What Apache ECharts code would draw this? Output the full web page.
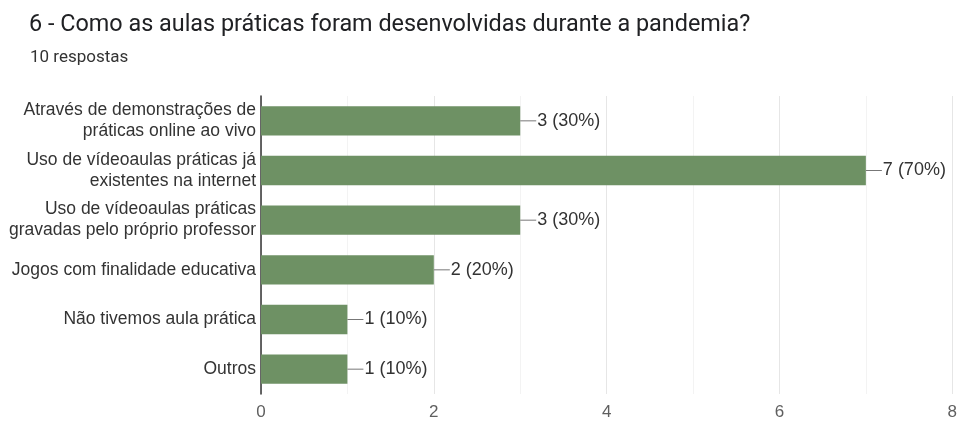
<!DOCTYPE html>
<html><head><meta charset="utf-8">
<script src="https://cdn.jsdelivr.net/npm/echarts@6/dist/echarts.min.js"></script>
<style>html,body{margin:0;padding:0;background:#fff}#c{width:960px;height:422px}</style>
</head><body><div id="c"></div>
<script>
const titleText = '6 - Como as aulas práticas foram desenvolvidas durante a pandemia?';
const subtitleText = '10 respostas';
const categories = [
  'Através de demonstrações de\npráticas online ao vivo',
  'Uso de vídeoaulas práticas já\nexistentes na internet',
  'Uso de vídeoaulas práticas\ngravadas pelo próprio professor',
  'Jogos com finalidade educativa',
  'Não tivemos aula prática',
  'Outros'
];
const counts = [3, 7, 3, 2, 1, 1];
const percents = [30, 70, 30, 20, 10, 10];
const xTicks = [0, 2, 4, 6, 8];

const chart = echarts.init(document.getElementById('c'));
chart.setOption({
  animation: false,
  title: [
    {text: titleText, left: 24, top: 9, textStyle: {fontFamily: 'Roboto', fontSize: 23.4, fontWeight: 'normal', color: '#202124'}},
    {text: subtitleText, left: 25, top: 44, textStyle: {fontFamily: 'Roboto', fontSize: 17, fontWeight: 'normal', color: '#333'}}
  ],
  grid: {left: 261, right: 5, top: 96, bottom: 28},
  xAxis: {
    type: 'value', min: xTicks[0], max: xTicks[xTicks.length-1], interval: 2,
    axisLine: {show: false}, axisTick: {show: false},
    axisLabel: {fontFamily: 'Liberation Sans', fontSize: 17, color: '#5f5f5f', margin: 10},
    splitLine: {show: true, lineStyle: {color: '#e6e6e6'}},
    minorTick: {show: false, splitNumber: 2},
    minorSplitLine: {show: true, lineStyle: {color: '#f3f3f3'}}
  },
  yAxis: {
    type: 'category', data: categories, inverse: true,
    axisLine: {show: true, lineStyle: {color: '#333', width: 1.5}},
    axisTick: {show: false},
    axisLabel: {fontFamily: 'Liberation Sans', fontSize: 17.5, color: '#333', margin: 5, lineHeight: 21, align: 'right'}
  },
  series: [{
    type: 'bar',
    data: counts,
    barCategoryGap: '41%',
    itemStyle: {color: '#6e9164'},
    label: {
      show: true, position: 'right', distance: 0,
      formatter: p => '{l|}{v|' + counts[p.dataIndex] + ' (' + percents[p.dataIndex] + '%)}',
      rich: {
        l: {width: 16, height: 1, backgroundColor: '#777'},
        v: {fontFamily: 'Liberation Sans', fontSize: 18, color: '#333', padding: [0, 0, 0, 1]}
      }
    }
  }]
});
</script></body></html>
